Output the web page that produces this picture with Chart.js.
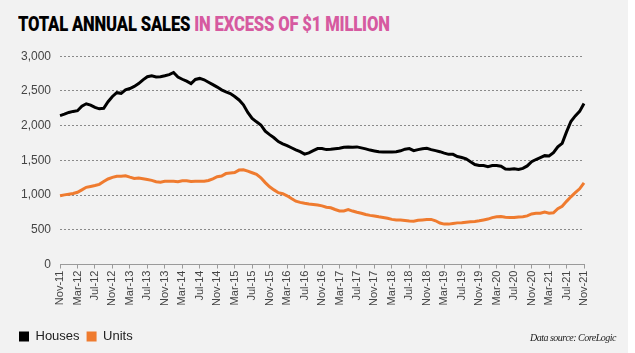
<!DOCTYPE html>
<html>
<head>
<meta charset="utf-8">
<script src="https://cdn.jsdelivr.net/npm/chart.js@4/dist/chart.umd.min.js"></script>
<style>
  html, body { margin: 0; padding: 0; background: #fff; }
  #page { position: relative; width: 628px; height: 353px; background: #f2f2f2; overflow: hidden; }
  #title { position: absolute; left: 18px; top: 12px; font-family: Roboto, "Liberation Sans", sans-serif;
    font-weight: 900; font-size: 20px; white-space: nowrap; transform-origin: left top; letter-spacing: -0.2px; }
  #title .pink { color: #d65aa0; }
  #wrap { position: absolute; left: 0; top: 40px; width: 628px; height: 313px; }
  #source { position: absolute; right: 12px; top: 332px; font-family: "Liberation Serif", serif;
    font-style: italic; font-size: 10px; color: #222; letter-spacing: -0.5px; }
</style>
</head>
<body>
<div id="page">
  <div id="title">TOTAL ANNUAL SALES <span class="pink">IN EXCESS OF $1 MILLION</span></div>
  <div id="wrap"><canvas id="chart"></canvas></div>
  <div id="source">Data source: CoreLogic</div>
</div>
<script>
// ── Annual sales above $1m, Nov-11 to Nov-21, monthly ──

const monthNames = ['Jan', 'Feb', 'Mar', 'Apr', 'May', 'Jun', 'Jul', 'Aug', 'Sep', 'Oct', 'Nov', 'Dec'];
const startMonth = 10, startYear = 2011, monthCount = 121;   // Nov-11 .. Nov-21
const labelEvery = 4;

const months = [];
for (let i = 0; i < monthCount; i++) {
  const m = (startMonth + i) % 12;
  const y = startYear + Math.floor((startMonth + i) / 12);
  months.push(monthNames[m] + '-' + String(y).slice(2));
}

const houses = [
  2145, 2165, 2190, 2205, 2215, 2280, 2315, 2295, 2262, 2242, 2250, 2345,
  2420, 2475, 2465, 2515, 2535, 2565, 2605, 2660, 2705, 2718, 2700, 2705,
  2718, 2735, 2765, 2700, 2668, 2640, 2606, 2665, 2680, 2660, 2625, 2590,
  2555, 2515, 2485, 2462, 2420, 2370, 2300, 2190, 2105, 2055, 2010, 1920,
  1870, 1825, 1770, 1738, 1712, 1682, 1652, 1626, 1590, 1608, 1640, 1670,
  1670, 1655, 1660, 1668, 1676, 1690, 1692, 1690, 1694, 1680, 1666, 1648,
  1635, 1623, 1621, 1621, 1621, 1625, 1638, 1661, 1670, 1640, 1655, 1668,
  1674, 1655, 1640, 1625, 1605, 1587, 1587, 1556, 1542, 1522, 1480, 1440,
  1427, 1425, 1408, 1425, 1427, 1415, 1375, 1372, 1378, 1368, 1385, 1420,
  1480, 1512, 1540, 1568, 1562, 1610, 1695, 1745, 1910, 2060, 2140, 2205,
  2320
];

const units = [
  990, 1003, 1012, 1022, 1040, 1075, 1112, 1125, 1138, 1155, 1195, 1232,
  1255, 1271, 1272, 1278, 1258, 1240, 1246, 1235, 1224, 1212, 1192, 1186,
  1198, 1198, 1198, 1192, 1205, 1205, 1196, 1198, 1198, 1198, 1210, 1235,
  1264, 1275, 1310, 1318, 1325, 1360, 1365, 1345, 1322, 1300, 1250, 1180,
  1120, 1075, 1035, 1020, 990, 950, 912, 895, 882, 872, 866, 858,
  845, 825, 818, 793, 772, 772, 790, 770, 752, 738, 720, 708,
  699, 687, 677, 666, 650, 641, 641, 635, 628, 625, 638, 643,
  648, 650, 630, 597, 582, 582, 592, 600, 602, 610, 616, 620,
  630, 642, 655, 676, 688, 690, 682, 677, 676, 686, 689, 700,
  728, 737, 738, 755, 740, 745, 805, 840, 910, 975, 1035, 1090,
  1175
];

const yTicks = [0, 500, 1000, 1500, 2000, 2500, 3000];

// squeeze the condensed headline to its width in the picture
const title = document.getElementById('title');
title.style.transform = 'scaleX(' + (372 / title.offsetWidth).toFixed(3) + ')';

const series = [
  { label: 'Houses', data: houses, color: '#000000' },
  { label: 'Units', data: units, color: '#ef7b2f' }
];

new Chart(document.getElementById('chart'), {
  type: 'line',
  data: {
    labels: months,
    datasets: series.map(s => ({
      label: s.label, data: s.data,
      borderColor: s.color, backgroundColor: s.color,
      borderWidth: 3, pointRadius: 0, tension: 0, fill: false
    }))
  },
  options: {
    responsive: true, maintainAspectRatio: false, animation: false,
    layout: { padding: { left: 12, right: 44, top: 12, bottom: 0 } },
    plugins: {
      title: { display: false },
      tooltip: { enabled: false },
      legend: {
        position: 'bottom', align: 'start',
        labels: {
          boxWidth: 10, boxHeight: 10, padding: 7,
          color: '#222', font: { family: 'Liberation Sans', size: 13 },
          generateLabels(chart) {
            return Chart.defaults.plugins.legend.labels.generateLabels(chart)
              .map(l => Object.assign(l, { lineWidth: 0 }));
          }
        }
      }
    },
    scales: {
      x: {
        afterFit(axis) { axis.height += 15; },   // gap above the legend
        grid: { drawOnChartArea: false, drawTicks: true, tickLength: 4, color: '#9a9a9a' },
        border: { color: '#9a9a9a' },
        ticks: {
          autoSkip: false, maxRotation: 90, minRotation: 90, padding: 2,
          color: '#444', font: { family: 'Liberation Sans', size: 11 },
          callback(v, i) { return i % labelEvery === 0 ? this.getLabelForValue(v) : null; }
        }
      },
      y: {
        min: 0, max: 3000,
        afterBuildTicks(axis) { axis.ticks = yTicks.map(v => ({ value: v })); },
        grid: { color: '#8a8a8a', drawTicks: false },
        border: { display: false, dash: [2, 2] },
        ticks: {
          padding: 9, color: '#444', font: { family: 'Liberation Sans', size: 12 },
          callback: v => v.toLocaleString('en-US')
        }
      }
    }
  }
});
</script>
</body>
</html>
